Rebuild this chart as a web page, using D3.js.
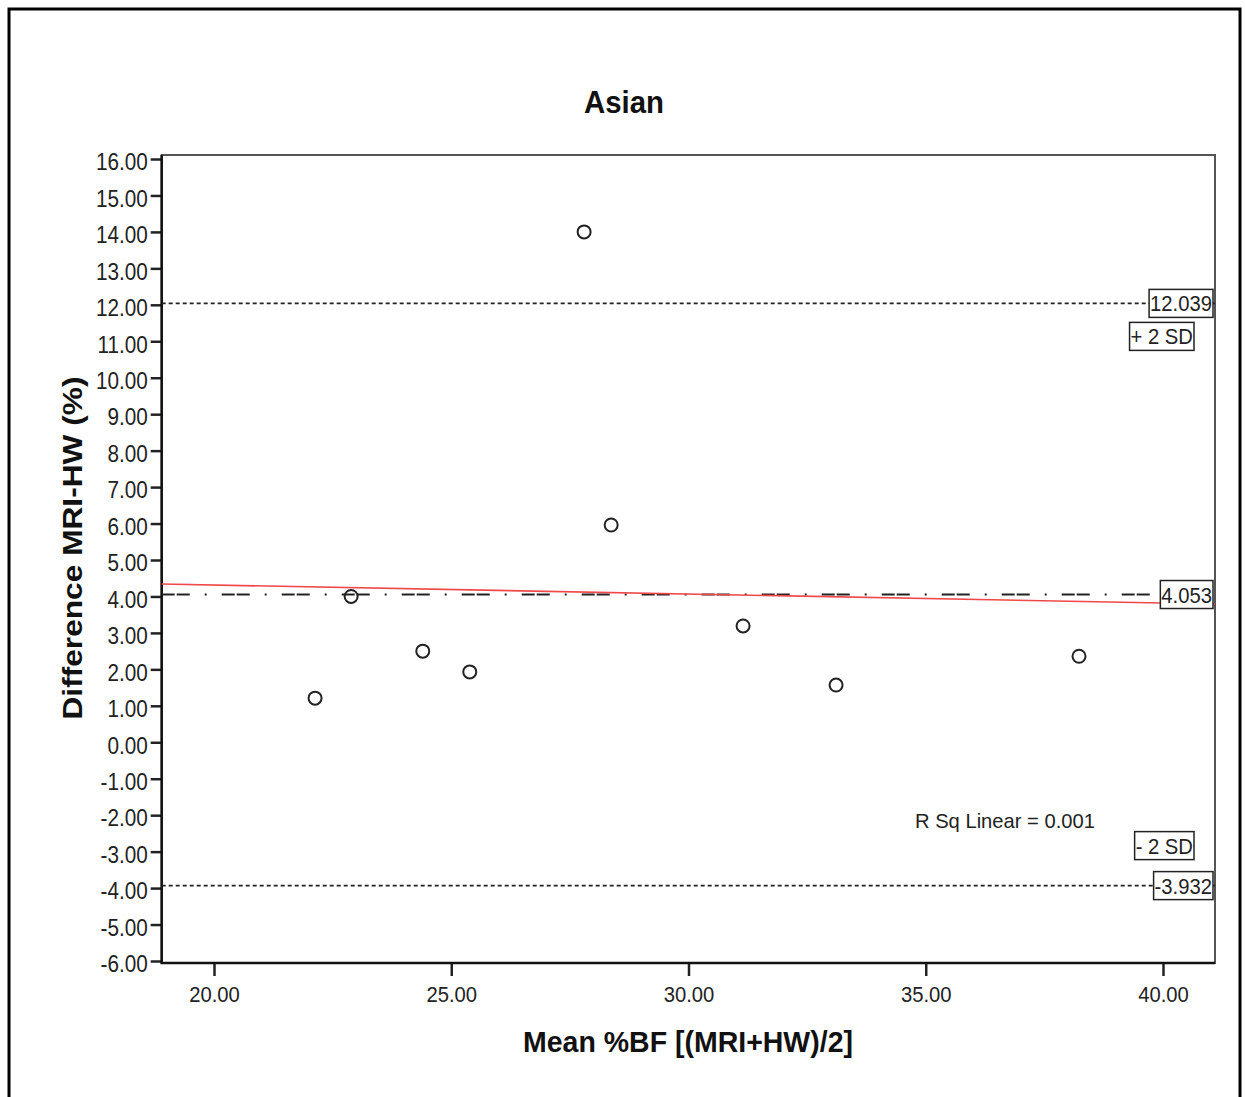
<!DOCTYPE html>
<html>
<head>
<meta charset="utf-8">
<script src="https://cdn.jsdelivr.net/npm/d3@7"></script>
<style>
  body { margin: 0; background: #fff; }
  svg { font-family: "Liberation Sans", Arial, sans-serif; }
</style>
</head>
<body>
<div class="chartContainer"></div>
<script>
// data
const meanBF = [22.13, 22.89, 24.40, 25.39, 27.80, 28.37, 31.15, 33.11, 38.23];
const diffBF = [1.21, 4.00, 2.50, 1.93, 14.00, 5.96, 3.19, 1.57, 2.36];
const xTicks = [20, 25, 30, 35, 40];
const yTicks = d3.range(-6, 17, 1);
const refValues = [12.039, 4.053, -3.932];
const refLabels = ["12.039", "4.053", "-3.932"];
const sdLabels = ["+ 2 SD", "- 2 SD"];
const fitIntercept = 4.805,
  fitSlope = -0.0246;
const rSqText = "R Sq Linear = 0.001";

const width = 1245,
  height = 1097;
// plot frame
const plotLeft = 161.7,
  plotRight = 1215,
  plotTop = 155,
  plotBottom = 963;

const svg = d3
  .select(".chartContainer")
  .append("svg")
  .attr("width", width)
  .attr("height", height);

// squeeze text horizontally (the original image is a bit narrow)
function squeeze(sel, k) {
  sel.each(function () {
    const len = this.getComputedTextLength();
    d3.select(this)
      .attr("textLength", len * k)
      .attr("lengthAdjust", "spacingAndGlyphs");
  });
}

// outer border
svg
  .append("rect")
  .attr("x", 9)
  .attr("y", 9)
  .attr("width", 1231)
  .attr("height", 1110)
  .attr("fill", "none")
  .attr("stroke", "#000")
  .attr("stroke-width", 3);

const xScale = d3.scaleLinear().domain([20, 40]).range([214, 1163]);
const yScale = d3.scaleLinear().domain([-6, 16]).range([961, 159]);

// frame: top/right lighter
svg
  .append("rect")
  .attr("x", plotLeft)
  .attr("y", plotTop)
  .attr("width", plotRight - plotLeft)
  .attr("height", plotBottom - plotTop)
  .attr("fill", "none")
  .attr("stroke", "#555")
  .attr("stroke-width", 2);

// Y AXIS
const yAxis = d3
  .axisLeft(yScale)
  .tickValues(yTicks)
  .tickSize(11)
  .tickPadding(3)
  .tickFormat((d) => d.toFixed(2));

const gy = svg
  .append("g")
  .attr("transform", `translate(${plotLeft},0)`)
  .call(yAxis);
gy.select(".domain").remove();
gy.selectAll(".tick line").attr("stroke", "#222").attr("stroke-width", 2.5);
gy.selectAll(".tick text")
  .attr("font-size", 23)
  .attr("font-family", "Liberation Sans, Arial, sans-serif")
  .attr("fill", "#222")
  .attr("dy", "0.47em");
squeeze(gy.selectAll(".tick text"), 0.9);

// X AXIS
const xAxis = d3
  .axisBottom(xScale)
  .tickValues(xTicks)
  .tickSize(13)
  .tickPadding(10)
  .tickFormat((d) => d.toFixed(2));

const gx = svg
  .append("g")
  .attr("transform", `translate(0,${plotBottom})`)
  .call(xAxis);
gx.select(".domain").remove();
gx.selectAll(".tick line").attr("stroke", "#222").attr("stroke-width", 2.5);
gx.selectAll(".tick text")
  .attr("font-size", 22)
  .attr("font-family", "Liberation Sans, Arial, sans-serif")
  .attr("fill", "#222");
squeeze(gx.selectAll(".tick text"), 0.92);

// left and bottom axis lines
svg
  .append("path")
  .attr("d", `M${plotLeft},${plotTop}V${plotBottom}H${plotRight}`)
  .attr("fill", "none")
  .attr("stroke", "#111")
  .attr("stroke-width", 2.5);

// reference lines (+2SD, mean, -2SD)
const refStyles = ["4,3", "13,2,13,15,2,15", "4,3"];
svg
  .selectAll("line.ref")
  .data(refValues)
  .enter()
  .append("line")
  .attr("class", "ref")
  .attr("x1", plotLeft)
  .attr("x2", plotRight)
  .attr("y1", (d) => yScale(d))
  .attr("y2", (d) => yScale(d))
  .attr("stroke", "#222")
  .attr("stroke-width", (d, i) => (i === 1 ? 2 : 1.6))
  .attr("stroke-dasharray", (d, i) => refStyles[i]);

// fit line
const xLeft = xScale.invert(plotLeft),
  xRight = xScale.invert(plotRight);
svg
  .append("line")
  .attr("x1", plotLeft)
  .attr("x2", plotRight)
  .attr("y1", yScale(fitIntercept + fitSlope * xLeft))
  .attr("y2", yScale(fitIntercept + fitSlope * xRight))
  .attr("stroke", "#f04848")
  .attr("stroke-width", 1.6);

// points
svg
  .selectAll("circle")
  .data(meanBF)
  .enter()
  .append("circle")
  .attr("cx", (d) => xScale(d))
  .attr("cy", (d, i) => yScale(diffBF[i]))
  .attr("r", 6.5)
  .attr("fill", "none")
  .attr("stroke", "#222")
  .attr("stroke-width", 2);

// boxed labels
function boxLabel(text, xEnd, yCenter) {
  const g = svg.append("g");
  const rect = g.append("rect");
  const t = g
    .append("text")
    .attr("x", xEnd - 1)
    .attr("y", yCenter + 8)
    .attr("text-anchor", "end")
    .attr("font-size", 22)
    .attr("fill", "#222")
    .text(text);
  squeeze(t, 0.92);
  const bb = t.node().getBBox();
  rect
    .attr("x", bb.x - 1)
    .attr("y", yCenter - 14)
    .attr("width", bb.width + 2)
    .attr("height", 28)
    .attr("fill", "#fff")
    .attr("stroke", "#222")
    .attr("stroke-width", 1.5);
}

refValues.forEach((v, i) => boxLabel(refLabels[i], 1213, yScale(v)));
boxLabel(sdLabels[0], 1194, yScale(refValues[0]) + 33);
boxLabel(sdLabels[1], 1194, yScale(refValues[2]) - 40);

// R Sq text
const rs = svg
  .append("text")
  .attr("x", 915)
  .attr("y", 828)
  .attr("font-size", 21)
  .attr("fill", "#222")
  .text(rSqText);
squeeze(rs, 0.96);

// titles
svg
  .append("text")
  .attr("x", 624)
  .attr("y", 113)
  .attr("text-anchor", "middle")
  .attr("font-size", 32)
  .attr("font-weight", "bold")
  .attr("fill", "#111")
  .attr("textLength", 80)
  .attr("lengthAdjust", "spacingAndGlyphs")
  .text("Asian");

svg
  .append("text")
  .attr("x", 688)
  .attr("y", 1052)
  .attr("text-anchor", "middle")
  .attr("font-size", 30)
  .attr("font-weight", "bold")
  .attr("fill", "#111")
  .attr("textLength", 330)
  .attr("lengthAdjust", "spacingAndGlyphs")
  .text("Mean %BF [(MRI+HW)/2]");

svg
  .append("text")
  .attr("transform", "translate(82,548) rotate(-90)")
  .attr("text-anchor", "middle")
  .attr("font-size", 28)
  .attr("font-weight", "bold")
  .attr("fill", "#111")
  .attr("textLength", 343)
  .attr("lengthAdjust", "spacingAndGlyphs")
  .text("Difference MRI-HW (%)");
</script>
</body>
</html>
